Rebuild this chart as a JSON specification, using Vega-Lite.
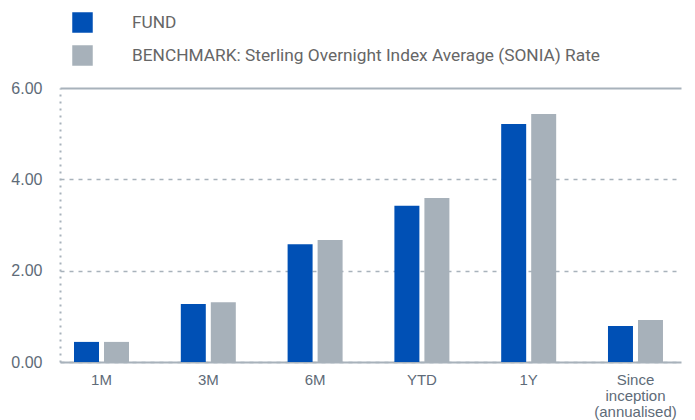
{
  "$schema": "https://vega.github.io/schema/vega-lite/v6.json",
  "width": 621,
  "height": 274,
  "autosize": "none",
  "padding": {"left": 60, "top": 88, "right": 14, "bottom": 58},
  "background": "white",
  "config": {"view": {"stroke": null}},
  "data": {
    "values": [
      {"period": "1M", "series": "FUND", "value": 0.44},
      {"period": "1M", "series": "BENCHMARK: Sterling Overnight Index Average (SONIA) Rate", "value": 0.44},
      {"period": "3M", "series": "FUND", "value": 1.27},
      {"period": "3M", "series": "BENCHMARK: Sterling Overnight Index Average (SONIA) Rate", "value": 1.31},
      {"period": "6M", "series": "FUND", "value": 2.58},
      {"period": "6M", "series": "BENCHMARK: Sterling Overnight Index Average (SONIA) Rate", "value": 2.67},
      {"period": "YTD", "series": "FUND", "value": 3.42},
      {"period": "YTD", "series": "BENCHMARK: Sterling Overnight Index Average (SONIA) Rate", "value": 3.59},
      {"period": "1Y", "series": "FUND", "value": 5.21},
      {"period": "1Y", "series": "BENCHMARK: Sterling Overnight Index Average (SONIA) Rate", "value": 5.43},
      {"period": "Since inception (annualised)", "series": "FUND", "value": 0.79},
      {"period": "Since inception (annualised)", "series": "BENCHMARK: Sterling Overnight Index Average (SONIA) Rate", "value": 0.92}
    ]
  },
  "mark": {"type": "bar"},
  "encoding": {
    "x": {
      "field": "period",
      "type": "nominal",
      "sort": null,
      "scale": {"paddingInner": 0.485, "paddingOuter": 0.15, "align": 0.4375},
      "axis": {
        "title": null,
        "labelAngle": 0,
        "ticks": false,
        "domainColor": "#A8B2BB",
        "domainWidth": 2,
        "labelFont": "Liberation Sans",
        "labelFontSize": 15,
        "labelColor": "#5E6B78",
        "labelPadding": 10,
        "labelLineHeight": 16,
        "labelExpr": "datum.value == 'Since inception (annualised)' ? ['Since', 'inception', '(annualised)'] : datum.value"
      }
    },
    "xOffset": {
      "field": "series",
      "type": "nominal",
      "sort": ["FUND", "BENCHMARK: Sterling Overnight Index Average (SONIA) Rate"],
      "scale": {"paddingInner": 0.167, "paddingOuter": 0}
    },
    "y": {
      "field": "value",
      "type": "quantitative",
      "scale": {"domain": [0, 6], "nice": false},
      "axis": {
        "title": null,
        "values": [0, 2, 4, 6],
        "format": ".2f",
        "ticks": false,
        "domainColor": "#A8B2BB",
        "domainWidth": 2,
        "domainDash": [2, 5],
        "gridColor": "#A8B2BB",
        "gridWidth": {"condition": {"test": "datum.value === 6", "value": 2}, "value": 1.5},
        "gridDash": {"condition": {"test": "datum.value === 6", "value": []}, "value": [4, 5]},
        "labelFont": "Liberation Sans",
        "labelFontSize": 16,
        "labelColor": "#5E6B78",
        "labelPadding": 18
      }
    },
    "color": {
      "field": "series",
      "type": "nominal",
      "sort": ["FUND", "BENCHMARK: Sterling Overnight Index Average (SONIA) Rate"],
      "scale": {"range": ["#0050B5", "#A7B1BA"]},
      "legend": {
        "title": null,
        "orient": "none",
        "legendX": 12,
        "legendY": -76,
        "direction": "vertical",
        "symbolType": "square",
        "symbolSize": 420,
        "symbolStrokeWidth": 0,
        "symbolOpacity": 1,
        "labelFont": "Roboto",
        "labelFontSize": 17.3,
        "labelColor": "#666666",
        "labelOffset": 39,
        "rowPadding": 12,
        "labelLimit": 650
      }
    }
  }
}
